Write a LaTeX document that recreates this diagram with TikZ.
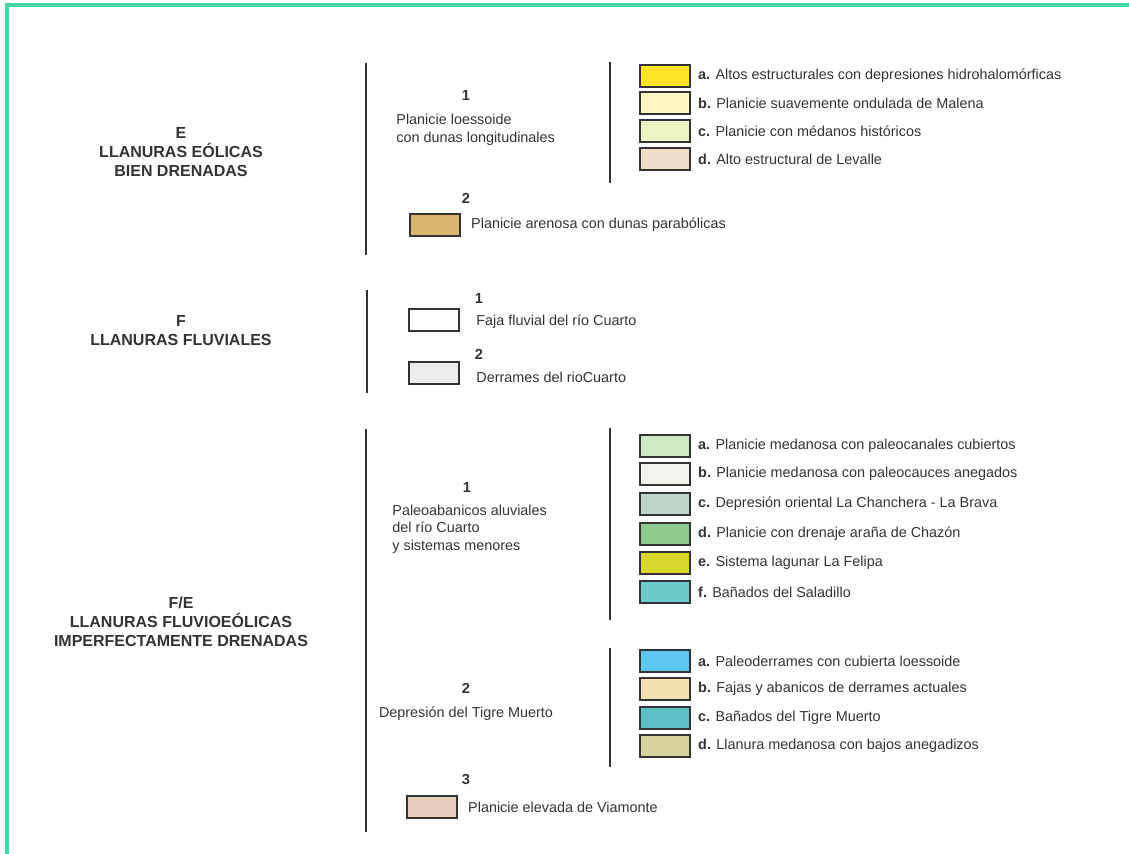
\documentclass[tikz,border=0pt]{standalone}
\usepackage{fontspec}
\setmainfont{Liberation Sans}
\usetikzlibrary{positioning}

\definecolor{framegreen}{HTML}{44D9A2}
\definecolor{ink}{HTML}{333333}
\definecolor{eA}{HTML}{FFE524}
\definecolor{eB}{HTML}{FFF6C2}
\definecolor{eC}{HTML}{EEF3C3}
\definecolor{eD}{HTML}{F1DFCB}
\definecolor{eTwo}{HTML}{D8B46E}
\definecolor{fTwo}{HTML}{EDEDED}
\definecolor{feA}{HTML}{CDE8C2}
\definecolor{feB}{HTML}{F4F4EE}
\definecolor{feC}{HTML}{BDD6C7}
\definecolor{feD}{HTML}{8FCB8F}
\definecolor{feE}{HTML}{D7D72C}
\definecolor{feF}{HTML}{6DCACB}
\definecolor{fgA}{HTML}{5CC8F0}
\definecolor{fgB}{HTML}{F5E2B2}
\definecolor{fgC}{HTML}{5FC1C8}
\definecolor{fgD}{HTML}{D8D29C}
\definecolor{fThree}{HTML}{E7CEBF}

\tikzset{
    frame/.style={draw=framegreen, line width=1.6pt},
    bar/.style={draw=ink, line width=1pt},
    heading/.style={align=center, text=ink, font=\bfseries\fontsize{8}{9.5}\selectfont},
    num/.style={text=ink, inner sep=0pt, font=\bfseries\fontsize{7.3}{9}\selectfont},
    desc/.style={align=left, anchor=west, inner sep=1pt, text=ink, font=\fontsize{7.2}{8.8}\selectfont},
    item/.style={anchor=west, inner sep=1pt, text=ink, font=\fontsize{7.2}{8.8}\selectfont},
    swatch/.style={draw=ink, line width=0.8pt, minimum width=25pt, minimum height=11pt, inner sep=0pt}
}

\begin{document}
\begin{tikzpicture}[x=0.5pt,y=-0.5pt]
    \useasboundingbox (0,0) rectangle (1129,854);
    \draw[frame] (7,854) -- (7,5) -- (1129,5);

    \node[heading] (eolicas) at (181,152) {E\\LLANURAS EÓLICAS\\BIEN DRENADAS};
    \node[heading] (fluviales) at (181,331) {F\\LLANURAS FLUVIALES};
    \node[heading] (fluvioeolicas) at (181,622) {F/E\\LLANURAS FLUVIOEÓLICAS\\IMPERFECTAMENTE DRENADAS};

    \draw[bar] (366,63) -- (366,255);
    \draw[bar] (367,290) -- (367,393);
    \draw[bar] (366,429) -- (366,832);
    \draw[bar] (610,62) -- (610,183);
    \draw[bar] (610,428) -- (610,620);
    \draw[bar] (610,648) -- (610,767);

    \node[num] (eone) at (466,95) {1};
    \node[desc] (eonedesc) at (394,130) {Planicie loessoide\\con dunas longitudinales};
    \node[swatch, fill=eA] (ea) at (665,76) {};
    \node[item, right=2.5pt of ea] (eatext) {\textbf{a.} Altos estructurales con depresiones hidrohalomórficas};
    \node[swatch, fill=eB] (eb) at (665,103) {};
    \node[item, right=2.5pt of eb] (ebtext) {\textbf{b.} Planicie suavemente ondulada de Malena};
    \node[swatch, fill=eC] (ec) at (665,131) {};
    \node[item, right=2.5pt of ec] (ectext) {\textbf{c.} Planicie con médanos históricos};
    \node[swatch, fill=eD] (ed) at (665,159) {};
    \node[item, right=2.5pt of ed] (edtext) {\textbf{d.} Alto estructural de Levalle};

    \node[num] (etwo) at (466,198) {2};
    \node[swatch, fill=eTwo] (etwobox) at (435,225) {};
    \node[item, right=4pt of etwobox] (etwotext) {Planicie arenosa con dunas parabólicas};

    \node[num] (fone) at (479,298) {1};
    \node[swatch, fill=white] (fonebox) at (434,320) {};
    \node[item] (fonetext) at (474,322) {Faja fluvial del río Cuarto};
    \node[num] (ftwo) at (479,354) {2};
    \node[swatch, fill=fTwo] (ftwobox) at (434,373) {};
    \node[item] (ftwotext) at (474,377) {Derrames del rioCuarto};

    \node[num] (feone) at (467,487) {1};
    \node[desc] (feonedesc) at (390,529) {Paleoabanicos aluviales\\del río Cuarto\\y sistemas menores};
    \node[swatch, fill=feA] (fea) at (665,446) {};
    \node[item, right=2.5pt of fea] (featext) {\textbf{a.} Planicie medanosa con paleocanales cubiertos};
    \node[swatch, fill=feB] (feb) at (665,474) {};
    \node[item, right=2.5pt of feb] (febtext) {\textbf{b.} Planicie medanosa con paleocauces anegados};
    \node[swatch, fill=feC] (fec) at (665,504) {};
    \node[item, right=2.5pt of fec] (fectext) {\textbf{c.} Depresión oriental La Chanchera - La Brava};
    \node[swatch, fill=feD] (fed) at (665,534) {};
    \node[item, right=2.5pt of fed] (fedtext) {\textbf{d.} Planicie con drenaje araña de Chazón};
    \node[swatch, fill=feE] (fee) at (665,563) {};
    \node[item, right=2.5pt of fee] (feetext) {\textbf{e.} Sistema lagunar La Felipa};
    \node[swatch, fill=feF] (fef) at (665,592) {};
    \node[item, right=2.5pt of fef] (feftext) {\textbf{f.} Bañados del Saladillo};

    \node[num] (fetwo) at (466,688) {2};
    \node[desc, anchor=center] (fetwodesc) at (466,714) {Depresión del Tigre Muerto};
    \node[swatch, fill=fgA] (fga) at (665,661) {};
    \node[item, right=2.5pt of fga] (fgatext) {\textbf{a.} Paleoderrames con cubierta loessoide};
    \node[swatch, fill=fgB] (fgb) at (665,689) {};
    \node[item, right=2.5pt of fgb] (fgbtext) {\textbf{b.} Fajas y abanicos de derrames actuales};
    \node[swatch, fill=fgC] (fgc) at (665,718) {};
    \node[item, right=2.5pt of fgc] (fgctext) {\textbf{c.} Bañados del Tigre Muerto};
    \node[swatch, fill=fgD] (fgd) at (665,746) {};
    \node[item, right=2.5pt of fgd] (fgdtext) {\textbf{d.} Llanura medanosa con bajos anegadizos};

    \node[num] (fethree) at (466,779) {3};
    \node[swatch, fill=fThree] (fethreebox) at (432,807) {};
    \node[item, right=4pt of fethreebox] (fethreetext) {Planicie elevada de Viamonte};
\end{tikzpicture}
\end{document}
